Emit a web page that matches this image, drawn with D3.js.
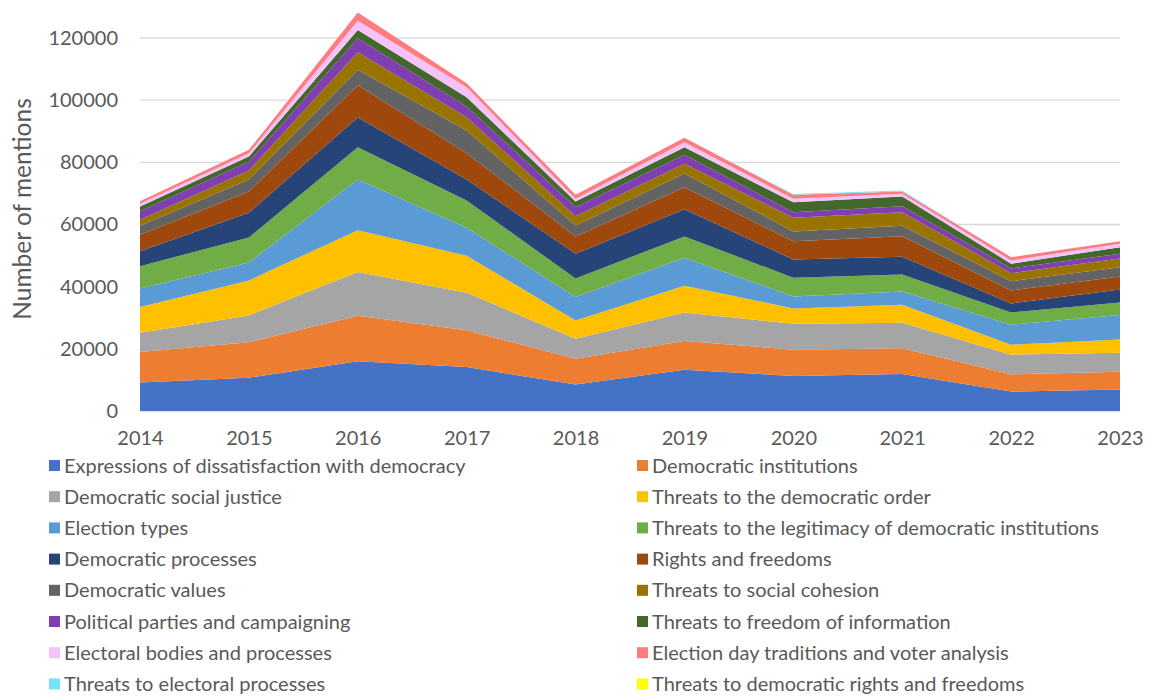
<!DOCTYPE html>
<html>
<head>
<meta charset="utf-8">
<script src="https://cdn.jsdelivr.net/npm/d3@7"></script>
<style>
  body { margin: 0; background: #fff; }
  svg { display: block; font-family: Lato, 'Open Sans', sans-serif; }
  .tick text { fill: #595959; }
</style>
</head>
<body>
<script>
// Data
const years = [2014, 2015, 2016, 2017, 2018, 2019, 2020, 2021, 2022, 2023];

const seriesNames = [
  'Expressions of dissatisfaction with democracy',
  'Democratic institutions',
  'Democratic social justice',
  'Threats to the democratic order',
  'Election types',
  'Threats to the legitimacy of democratic institutions',
  'Democratic processes',
  'Rights and freedoms',
  'Democratic values',
  'Threats to social cohesion',
  'Political parties and campaigning',
  'Threats to freedom of information',
  'Electoral bodies and processes',
  'Election day traditions and voter analysis',
  'Threats to electoral processes',
  'Threats to democratic rights and freedoms'
];

const dissatisfaction = [9130, 10730, 15970, 14140, 8490, 13310, 11250, 11890, 6240, 6880];
const institutions    = [9830, 11350, 14690, 11800, 8350, 9190, 8480, 8260, 5560, 5780];
const socialJustice   = [6240, 8680, 14020, 12110, 6430, 9220, 8360, 8260, 6330, 6110];
const threatsOrder    = [8230, 11240, 13500, 11900, 5880, 8580, 4920, 5790, 3210, 4270];
const electionTypes   = [6000, 5790, 16290, 8990, 7490, 9000, 3850, 4270, 6430, 7810];
const threatsLegit    = [7170, 8040, 10380, 8780, 6010, 6850, 6010, 5470, 3950, 4090];
const processes       = [4830, 7940, 9550, 6750, 7940, 8770, 5890, 5680, 2900, 4170];
const rights          = [5270, 6840, 10380, 8450, 5560, 7070, 5880, 6630, 4170, 4180];
const values          = [2890, 3860, 5040, 7300, 3530, 4410, 3120, 3340, 2990, 2990];
const socialCohesion  = [1910, 2890, 5560, 4270, 2990, 3110, 4400, 4370, 2570, 2800];
const parties         = [2780, 2790, 4500, 3440, 2900, 2900, 1800, 1930, 1510, 1510];
const freedomInfo     = [1510, 1710, 2700, 2990, 1830, 2440, 3210, 3110, 1510, 2120];
const electoralBodies = [860, 1060, 2990, 3210, 870, 1610, 1100, 870, 1070, 1090];
const electionDay     = [850, 1090, 2670, 1290, 1280, 1410, 1280, 740, 1060, 840];
const threatsElectoral = [0, 0, 0, 0, 0, 0, 250, 350, 0, 0];
const threatsRights   = [0, 0, 0, 0, 0, 0, 0, 0, 0, 0];

const seriesValues = [
  dissatisfaction, institutions, socialJustice, threatsOrder, electionTypes,
  threatsLegit, processes, rights, values, socialCohesion, parties,
  freedomInfo, electoralBodies, electionDay, threatsElectoral, threatsRights
];

const yTicks = [0, 20000, 40000, 60000, 80000, 100000, 120000];

const colors = [
  '#4472C4', '#ED7D31', '#A5A5A5', '#FFC000', '#5B9BD5', '#70AD47',
  '#264478', '#9E480E', '#636363', '#997300', '#7F3FB0', '#43682B',
  '#F5C3F9', '#FF7C80', '#76E4F8', '#FFFF00'
];

// Build rows for the stack
const table = years.map((yr, i) => {
  const row = { year: yr };
  seriesNames.forEach((name, j) => { row[name] = seriesValues[j][i]; });
  return row;
});

const width = 1151, height = 697;

const svg = d3.select('body').append('svg')
  .attr('width', width)
  .attr('height', height);

const x = d3.scalePoint()
  .domain(years)
  .range([140, 1120]);

const y = d3.scaleLinear()
  .domain([0, 120000])
  .range([411, 38]);

// Gridlines
svg.append('g')
  .selectAll('line')
  .data(yTicks)
  .enter()
  .append('line')
  .attr('x1', 140)
  .attr('x2', 1120)
  .attr('y1', d => y(d))
  .attr('y2', d => y(d))
  .attr('stroke', '#d9d9d9')
  .attr('stroke-width', 1.3);

// Stacked areas
const stack = d3.stack().keys(seriesNames);
const layers = stack(table);

const area = d3.area()
  .x(d => x(d.data.year))
  .y0(d => y(d[0]))
  .y1(d => y(d[1]));

svg.append('g')
  .selectAll('path')
  .data(layers)
  .enter()
  .append('path')
  .attr('d', area)
  .attr('fill', (d, i) => colors[i]);

// Y axis
const yAxis = svg.append('g')
  .attr('transform', 'translate(128,0)')
  .call(d3.axisLeft(y).tickValues(yTicks).tickSize(0).tickPadding(10).tickFormat(d3.format('d')));
yAxis.select('.domain').remove();
yAxis.selectAll('text').attr('font-size', 20).attr('font-family', 'Lato');

// X axis
const xAxis = svg.append('g')
  .attr('transform', 'translate(0,411)')
  .call(d3.axisBottom(x).tickSize(0).tickPadding(20));
xAxis.select('.domain').remove();
xAxis.selectAll('text').attr('font-size', 20).attr('font-family', 'Lato');

// Y title
svg.append('text')
  .attr('transform', 'translate(31,209) rotate(-90)')
  .attr('text-anchor', 'middle')
  .attr('font-size', 24.5)
  .attr('fill', '#595959')
  .text('Number of mentions');

// Legend
const legend = svg.append('g');
const items = legend.selectAll('g')
  .data(seriesNames)
  .enter()
  .append('g')
  .attr('transform', (d, i) => {
    const col = i % 2;
    const row = Math.floor(i / 2);
    return `translate(${col === 0 ? 49 : 637},${465.5 + row * 31.2})`;
  });

items.append('rect')
  .attr('x', 0)
  .attr('y', -5.5)
  .attr('width', 11)
  .attr('height', 11)
  .attr('fill', (d, i) => colors[i]);

items.append('text')
  .attr('x', 15)
  .attr('y', 0)
  .attr('dy', '0.35em')
  .attr('font-size', 20)
  .attr('fill', '#595959')
  .text(d => d);
</script>
</body>
</html>
